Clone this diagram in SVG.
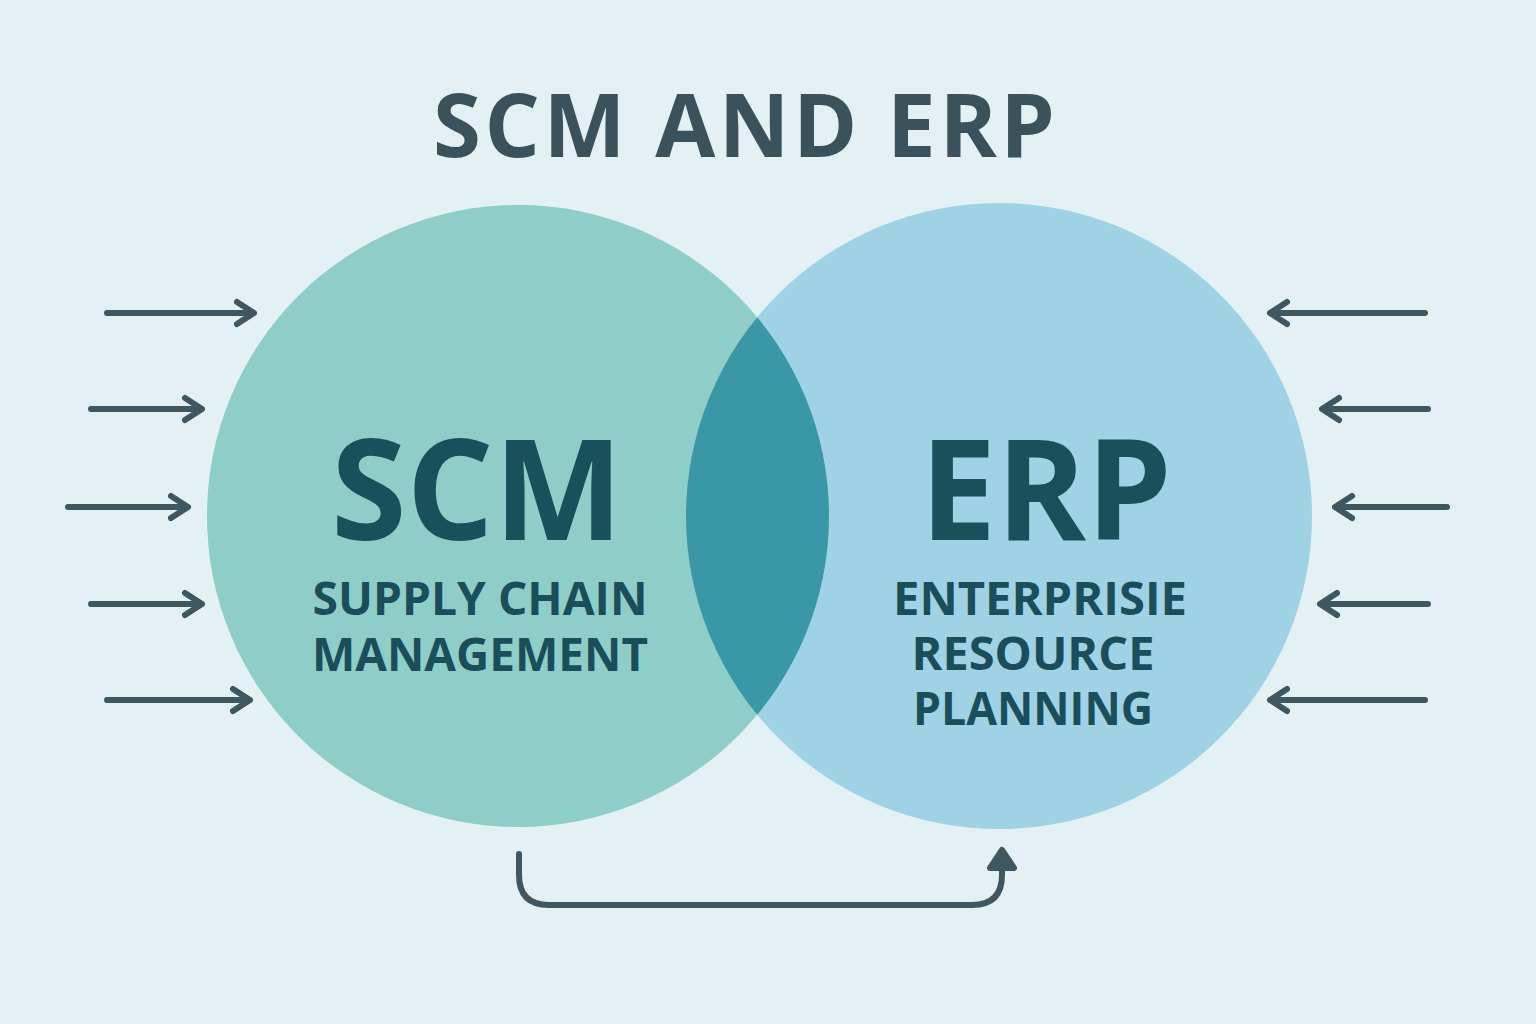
<svg xmlns="http://www.w3.org/2000/svg" width="1536" height="1024" viewBox="0 0 1536 1024">
<defs>
<style>
.arr{stroke:#3E5760;stroke-width:6;fill:none;stroke-linecap:round;stroke-linejoin:round}
.t{font-family:"Open Sans","Noto Sans","DejaVu Sans",sans-serif;font-weight:700;text-anchor:middle}
.big{font-size:140px;fill:#18505B}
.sub{font-size:46px;fill:#1A4E5A}
</style>
<clipPath id="clipL"><circle cx="518" cy="516" r="311"/></clipPath>
</defs>
<rect width="1536" height="1024" fill="#E3F1F5"/>
<text class="t" x="744" y="157" font-size="87" fill="#3B525C" textLength="622" lengthAdjust="spacing">SCM AND ERP</text>
<g id="scm-circle"><circle cx="518" cy="516" r="311" fill="#8FCDC8"/></g>
<g id="erp-circle"><circle cx="999" cy="516" r="313" fill="#9ED2E4"/></g>
<g id="overlap"><circle cx="999" cy="516" r="313" fill="#3A97A6" clip-path="url(#clipL)"/></g>
<g id="scm-label">
<text class="t big" x="477" y="540" textLength="292" lengthAdjust="spacingAndGlyphs">SCM</text>
<text class="t sub" x="480" y="615" textLength="335" lengthAdjust="spacingAndGlyphs">SUPPLY CHAIN</text>
<text class="t sub" x="480" y="671" textLength="336" lengthAdjust="spacingAndGlyphs">MANAGEMENT</text>
</g>
<g id="erp-label">
<text class="t big" x="1046" y="540" textLength="252" lengthAdjust="spacingAndGlyphs">ERP</text>
<text class="t sub" x="1040" y="615" textLength="294" lengthAdjust="spacingAndGlyphs">ENTERPRISIE</text>
<text class="t sub" x="1033" y="670" textLength="243" lengthAdjust="spacingAndGlyphs">RESOURCE</text>
<text class="t sub" x="1033" y="725" textLength="240" lengthAdjust="spacingAndGlyphs">PLANNING</text>
</g>
<g id="connectors" class="arr">
<path d="M107 313H252M237 302L254 313L237 324"/>
<path d="M91 409H200M185 398L202 409L185 420"/>
<path d="M68 507H186M171 496L188 507L171 518"/>
<path d="M91 604H200M185 593L202 604L185 615"/>
<path d="M107 700H248M233 689L250 700L233 711"/>
<path d="M1425 313H1272M1287 302L1270 313L1287 324"/>
<path d="M1428 409H1324M1339 398L1322 409L1339 420"/>
<path d="M1447 507H1337M1352 496L1335 507L1352 518"/>
<path d="M1428 604H1322M1337 593L1320 604L1337 615"/>
<path d="M1425 700H1272M1287 689L1270 700L1287 711"/>
<path d="M519 854V875Q519 905 549 905H972Q1002 905 1002 875V852"/>
<path d="M990 868L1002 850L1014 868Z" fill="#3E5760"/>
</g>
</svg>
